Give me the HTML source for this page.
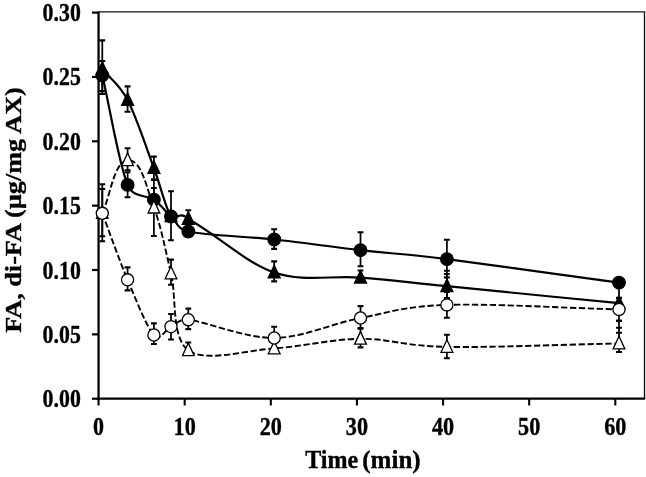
<!DOCTYPE html>
<html><head><meta charset="utf-8"><title>chart</title>
<style>html,body{margin:0;padding:0;background:#fff;overflow:hidden}svg{display:block;position:absolute;left:0;top:0;will-change:transform}</style></head>
<body>
<svg width="646" height="477" viewBox="0 0 646 477">
<rect width="646" height="477" fill="#fff"/>
<path d="M98.55 11.9H644.5V398.7" fill="none" stroke="#111" stroke-width="1.35"/>
<path d="M98.55 11.4V398.70H645.2" fill="none" stroke="#000" stroke-width="2.25"/>
<path d="M92 12.60H98.55" stroke="#000" stroke-width="2.2"/>
<path d="M92 76.95H98.55" stroke="#000" stroke-width="2.2"/>
<path d="M92 141.30H98.55" stroke="#000" stroke-width="2.2"/>
<path d="M92 205.65H98.55" stroke="#000" stroke-width="2.2"/>
<path d="M92 270.00H98.55" stroke="#000" stroke-width="2.2"/>
<path d="M92 334.35H98.55" stroke="#000" stroke-width="2.2"/>
<path d="M92 398.70H98.55" stroke="#000" stroke-width="2.2"/>
<path d="M98.55 398.70V405.5" stroke="#000" stroke-width="2.1"/>
<path d="M184.68 398.70V405.5" stroke="#000" stroke-width="2.1"/>
<path d="M270.80 398.70V405.5" stroke="#000" stroke-width="2.1"/>
<path d="M356.93 398.70V405.5" stroke="#000" stroke-width="2.1"/>
<path d="M443.05 398.70V405.5" stroke="#000" stroke-width="2.1"/>
<path d="M529.17 398.70V405.5" stroke="#000" stroke-width="2.1"/>
<path d="M615.30 398.70V405.5" stroke="#000" stroke-width="2.1"/>
<path d="M102.3 40.4V93.9M127.6 86.4V111.7M153.9 156.6V180.0M188.3 210.3V230.0M274.2 261.4V281.4M360.5 270.5V282.0M446.9 274.0V298.0" fill="none" stroke="#000" stroke-width="1.75"/><path d="M99.3 40.4H105.2M99.3 93.9H105.2M124.6 86.4H130.5M124.6 111.7H130.5M151.0 156.6H156.8M151.0 180.0H156.8M185.4 210.3H191.2M185.4 230.0H191.2M271.2 261.4H277.1M271.2 281.4H277.1M357.6 270.5H363.4M357.6 282.0H363.4M443.9 274.0H449.8M443.9 298.0H449.8" fill="none" stroke="#000" stroke-width="2.1"/>
<path d="M102.3 69.0 C110.7 79.3 119.0 83.5 127.6 100.0 C136.2 116.5 146.7 148.6 153.9 168.0 C161.1 187.4 165.3 207.7 171.0 216.2 C174.8 222.5 179.0 209.5 188.3 219.0 C217.5 235.1 245.5 262.7 274.2 272.5 C302.9 282.3 331.7 275.3 360.5 277.6 C389.3 279.9 403.8 281.9 446.9 286.2 C490.0 290.5 561.6 297.5 619.0 303.2" fill="none" stroke="#000" stroke-width="2.2"/>
<path d="M102.3 61.8L108.3 74.4H96.3Z" fill="#000" stroke="#000" stroke-width="1.3" stroke-linejoin="miter"/><path d="M127.6 92.8L133.6 105.4H121.6Z" fill="#000" stroke="#000" stroke-width="1.3" stroke-linejoin="miter"/><path d="M153.9 160.8L159.9 173.4H147.9Z" fill="#000" stroke="#000" stroke-width="1.3" stroke-linejoin="miter"/><path d="M171.0 209.0L177.0 221.6H165.0Z" fill="#000" stroke="#000" stroke-width="1.3" stroke-linejoin="miter"/><path d="M188.3 211.8L194.3 224.4H182.3Z" fill="#000" stroke="#000" stroke-width="1.3" stroke-linejoin="miter"/><path d="M274.2 265.3L280.2 277.9H268.2Z" fill="#000" stroke="#000" stroke-width="1.3" stroke-linejoin="miter"/><path d="M360.5 270.4L366.5 283.0H354.5Z" fill="#000" stroke="#000" stroke-width="1.3" stroke-linejoin="miter"/><path d="M446.9 279.0L452.9 291.6H440.9Z" fill="#000" stroke="#000" stroke-width="1.3" stroke-linejoin="miter"/><path d="M619.0 296.0L625.0 308.6H613.0Z" fill="#000" stroke="#000" stroke-width="1.3" stroke-linejoin="miter"/>
<path d="M102.3 61.0V91.0M127.6 172.2V197.3M153.9 188.0V211.0M171.0 191.3V240.2M274.2 229.2V248.9M360.5 232.2V266.3M446.9 239.8V277.4M619.0 283.0V297.9" fill="none" stroke="#000" stroke-width="1.75"/><path d="M99.3 61.0H105.2M99.3 91.0H105.2M124.6 172.2H130.5M124.6 197.3H130.5M151.0 188.0H156.8M151.0 211.0H156.8M168.1 191.3H173.9M168.1 240.2H173.9M271.2 229.2H277.1M271.2 248.9H277.1M357.6 232.2H363.4M357.6 266.3H363.4M443.9 239.8H449.8M443.9 277.4H449.8M616.0 283.0H622.0M616.0 297.9H622.0" fill="none" stroke="#000" stroke-width="2.1"/>
<path d="M102.3 75.3 C110.7 111.8 119.0 164.2 127.6 184.9 C133.4 198.8 146.7 194.4 153.9 199.7 C161.1 205.0 165.3 211.2 171.0 216.5 C176.7 221.8 177.1 229.0 188.3 231.5 C205.5 235.3 245.5 236.4 274.2 239.5 C302.9 242.6 331.7 246.9 360.5 250.2 C389.3 253.5 403.8 253.7 446.9 259.1 C490.0 264.5 561.6 274.8 619.0 282.7" fill="none" stroke="#000" stroke-width="2.2"/>
<circle cx="102.3" cy="75.3" r="6.30" fill="#000" stroke="#000" stroke-width="1.3"/><circle cx="127.6" cy="184.9" r="6.30" fill="#000" stroke="#000" stroke-width="1.3"/><circle cx="153.9" cy="199.7" r="6.30" fill="#000" stroke="#000" stroke-width="1.3"/><circle cx="171.0" cy="216.5" r="6.30" fill="#000" stroke="#000" stroke-width="1.3"/><circle cx="188.3" cy="231.5" r="6.30" fill="#000" stroke="#000" stroke-width="1.3"/><circle cx="274.2" cy="239.5" r="6.30" fill="#000" stroke="#000" stroke-width="1.3"/><circle cx="360.5" cy="250.2" r="6.30" fill="#000" stroke="#000" stroke-width="1.3"/><circle cx="446.9" cy="259.1" r="6.30" fill="#000" stroke="#000" stroke-width="1.3"/><circle cx="619.0" cy="282.7" r="6.30" fill="#000" stroke="#000" stroke-width="1.3"/>
<path d="M102.3 189.0V236.3M127.6 148.2V170.2M153.9 179.2V236.0M171.0 259.6V284.8M188.3 342.5V352.0M360.5 328.4V347.4M446.9 334.7V358.2M619.0 320.9V352.0" fill="none" stroke="#000" stroke-width="1.75"/><path d="M99.3 189.0H105.2M99.3 236.3H105.2M124.6 148.2H130.5M124.6 170.2H130.5M151.0 179.2H156.8M151.0 236.0H156.8M168.1 259.6H173.9M168.1 284.8H173.9M185.4 342.5H191.2M185.4 352.0H191.2M357.6 328.4H363.4M357.6 347.4H363.4M443.9 334.7H449.8M443.9 358.2H449.8M616.0 320.9H622.0M616.0 352.0H622.0" fill="none" stroke="#000" stroke-width="2.1"/>
<path d="M616.05 327.8H621.95M616.05 332.7H621.95M443.95 270.7H449.85" fill="none" stroke="#000" stroke-width="2.1"/>
<path d="M102.3 213.0 C110.7 195.4 113.6 162.0 127.6 160.3 C141.6 158.6 146.7 188.8 153.9 207.6 C161.1 226.4 165.3 249.6 171.0 273.4 C176.7 297.2 171.1 337.8 188.3 350.3 C205.5 362.8 245.5 350.3 274.2 348.4 C302.9 346.5 331.7 339.1 360.5 338.8 C389.3 338.6 403.8 346.1 446.9 346.9 C490.0 347.7 561.6 344.6 619.0 343.5" fill="none" stroke="#000" stroke-width="1.9" stroke-dasharray="6.3 2.6"/>
<path d="M102.3 205.8L108.1 218.4H96.5Z" fill="#fff" stroke="#000" stroke-width="1.3" stroke-linejoin="miter"/><path d="M127.6 153.1L133.4 165.7H121.8Z" fill="#fff" stroke="#000" stroke-width="1.3" stroke-linejoin="miter"/><path d="M153.9 200.4L159.8 213.0H148.1Z" fill="#fff" stroke="#000" stroke-width="1.3" stroke-linejoin="miter"/><path d="M171.0 266.2L176.8 278.8H165.2Z" fill="#fff" stroke="#000" stroke-width="1.3" stroke-linejoin="miter"/><path d="M188.3 343.1L194.2 355.7H182.5Z" fill="#fff" stroke="#000" stroke-width="1.3" stroke-linejoin="miter"/><path d="M274.2 341.2L280.1 353.8H268.3Z" fill="#fff" stroke="#000" stroke-width="1.3" stroke-linejoin="miter"/><path d="M360.5 331.6L366.4 344.2H354.6Z" fill="#fff" stroke="#000" stroke-width="1.3" stroke-linejoin="miter"/><path d="M446.9 339.7L452.8 352.3H441.0Z" fill="#fff" stroke="#000" stroke-width="1.3" stroke-linejoin="miter"/><path d="M619.0 336.3L624.9 348.9H613.1Z" fill="#fff" stroke="#000" stroke-width="1.3" stroke-linejoin="miter"/>
<path d="M102.3 184.3V241.3M127.6 267.4V290.4M153.9 323.4V344.0M171.0 314.0V339.5M188.3 308.6V329.1M274.2 326.7V338.0M360.5 306.1V328.4M446.9 292.0V317.8M619.0 303.0V320.9" fill="none" stroke="#000" stroke-width="1.75"/><path d="M99.3 184.3H105.2M99.3 241.3H105.2M124.6 267.4H130.5M124.6 290.4H130.5M151.0 323.4H156.8M151.0 344.0H156.8M168.1 314.0H173.9M168.1 339.5H173.9M185.4 308.6H191.2M185.4 329.1H191.2M271.2 326.7H277.1M271.2 338.0H277.1M357.6 306.1H363.4M357.6 328.4H363.4M443.9 292.0H449.8M443.9 317.8H449.8M616.0 303.0H622.0M616.0 320.9H622.0" fill="none" stroke="#000" stroke-width="2.1"/>
<path d="M102.3 213.3 C110.7 235.5 119.0 259.5 127.6 279.8 C136.2 300.1 146.7 327.2 153.9 335.0 C160.4 342.0 165.3 329.2 171.0 326.6 C176.7 324.1 179.0 318.7 188.3 319.7 C205.5 321.6 245.5 338.3 274.2 338.0 C302.9 337.7 331.7 323.5 360.5 318.0 C389.3 312.5 403.8 306.3 446.9 304.9 C490.0 303.5 561.6 307.9 619.0 309.4" fill="none" stroke="#000" stroke-width="1.9" stroke-dasharray="6.3 2.6"/>
<circle cx="102.3" cy="213.3" r="6.05" fill="#fff" stroke="#000" stroke-width="1.3"/><circle cx="127.6" cy="279.8" r="6.05" fill="#fff" stroke="#000" stroke-width="1.3"/><circle cx="153.9" cy="335.0" r="6.05" fill="#fff" stroke="#000" stroke-width="1.3"/><circle cx="171.0" cy="326.6" r="6.05" fill="#fff" stroke="#000" stroke-width="1.3"/><circle cx="188.3" cy="319.7" r="6.05" fill="#fff" stroke="#000" stroke-width="1.3"/><circle cx="274.2" cy="338.0" r="6.05" fill="#fff" stroke="#000" stroke-width="1.3"/><circle cx="360.5" cy="318.0" r="6.05" fill="#fff" stroke="#000" stroke-width="1.3"/><circle cx="446.9" cy="304.9" r="6.05" fill="#fff" stroke="#000" stroke-width="1.3"/><circle cx="619.0" cy="309.4" r="6.05" fill="#fff" stroke="#000" stroke-width="1.3"/>
<text x="42.6" y="21.1" textLength="38.2" lengthAdjust="spacingAndGlyphs" style="font-family:'Liberation Serif',serif;font-weight:bold;fill:#000;stroke:#000;stroke-width:0.35px;font-size:24.6px">0.30</text>
<text x="42.6" y="85.4" textLength="38.2" lengthAdjust="spacingAndGlyphs" style="font-family:'Liberation Serif',serif;font-weight:bold;fill:#000;stroke:#000;stroke-width:0.35px;font-size:24.6px">0.25</text>
<text x="42.6" y="149.8" textLength="38.2" lengthAdjust="spacingAndGlyphs" style="font-family:'Liberation Serif',serif;font-weight:bold;fill:#000;stroke:#000;stroke-width:0.35px;font-size:24.6px">0.20</text>
<text x="42.6" y="214.1" textLength="38.2" lengthAdjust="spacingAndGlyphs" style="font-family:'Liberation Serif',serif;font-weight:bold;fill:#000;stroke:#000;stroke-width:0.35px;font-size:24.6px">0.15</text>
<text x="42.6" y="278.5" textLength="38.2" lengthAdjust="spacingAndGlyphs" style="font-family:'Liberation Serif',serif;font-weight:bold;fill:#000;stroke:#000;stroke-width:0.35px;font-size:24.6px">0.10</text>
<text x="42.6" y="342.8" textLength="38.2" lengthAdjust="spacingAndGlyphs" style="font-family:'Liberation Serif',serif;font-weight:bold;fill:#000;stroke:#000;stroke-width:0.35px;font-size:24.6px">0.05</text>
<text x="42.6" y="407.2" textLength="38.2" lengthAdjust="spacingAndGlyphs" style="font-family:'Liberation Serif',serif;font-weight:bold;fill:#000;stroke:#000;stroke-width:0.35px;font-size:24.6px">0.00</text>
<text x="93.0" y="435.2" textLength="11.0" lengthAdjust="spacingAndGlyphs" style="font-family:'Liberation Serif',serif;font-weight:bold;fill:#000;stroke:#000;stroke-width:0.35px;font-size:24.3px">0</text>
<text x="173.6" y="435.2" textLength="22.2" lengthAdjust="spacingAndGlyphs" style="font-family:'Liberation Serif',serif;font-weight:bold;fill:#000;stroke:#000;stroke-width:0.35px;font-size:24.3px">10</text>
<text x="259.7" y="435.2" textLength="22.2" lengthAdjust="spacingAndGlyphs" style="font-family:'Liberation Serif',serif;font-weight:bold;fill:#000;stroke:#000;stroke-width:0.35px;font-size:24.3px">20</text>
<text x="345.8" y="435.2" textLength="22.2" lengthAdjust="spacingAndGlyphs" style="font-family:'Liberation Serif',serif;font-weight:bold;fill:#000;stroke:#000;stroke-width:0.35px;font-size:24.3px">30</text>
<text x="431.9" y="435.2" textLength="22.2" lengthAdjust="spacingAndGlyphs" style="font-family:'Liberation Serif',serif;font-weight:bold;fill:#000;stroke:#000;stroke-width:0.35px;font-size:24.3px">40</text>
<text x="518.1" y="435.2" textLength="22.2" lengthAdjust="spacingAndGlyphs" style="font-family:'Liberation Serif',serif;font-weight:bold;fill:#000;stroke:#000;stroke-width:0.35px;font-size:24.3px">50</text>
<text x="604.2" y="435.2" textLength="22.2" lengthAdjust="spacingAndGlyphs" style="font-family:'Liberation Serif',serif;font-weight:bold;fill:#000;stroke:#000;stroke-width:0.35px;font-size:24.3px">60</text>
<text x="305.2" y="468.2" textLength="53" lengthAdjust="spacingAndGlyphs" style="font-family:'Liberation Serif',serif;font-weight:bold;fill:#000;stroke:#000;stroke-width:0.35px;font-size:25px">Time</text>
<text x="362.3" y="468.2" textLength="58.3" lengthAdjust="spacingAndGlyphs" style="font-family:'Liberation Serif',serif;font-weight:bold;fill:#000;stroke:#000;stroke-width:0.35px;font-size:25px">(min)</text>
<text transform="translate(21.3 332.8) rotate(-90)" textLength="245.6" lengthAdjust="spacingAndGlyphs" style="font-family:'Liberation Serif',serif;font-weight:bold;fill:#000;stroke:#000;stroke-width:0.35px;font-size:24px">FA, di-FA (µg/mg AX)</text>
</svg>
</body></html>
